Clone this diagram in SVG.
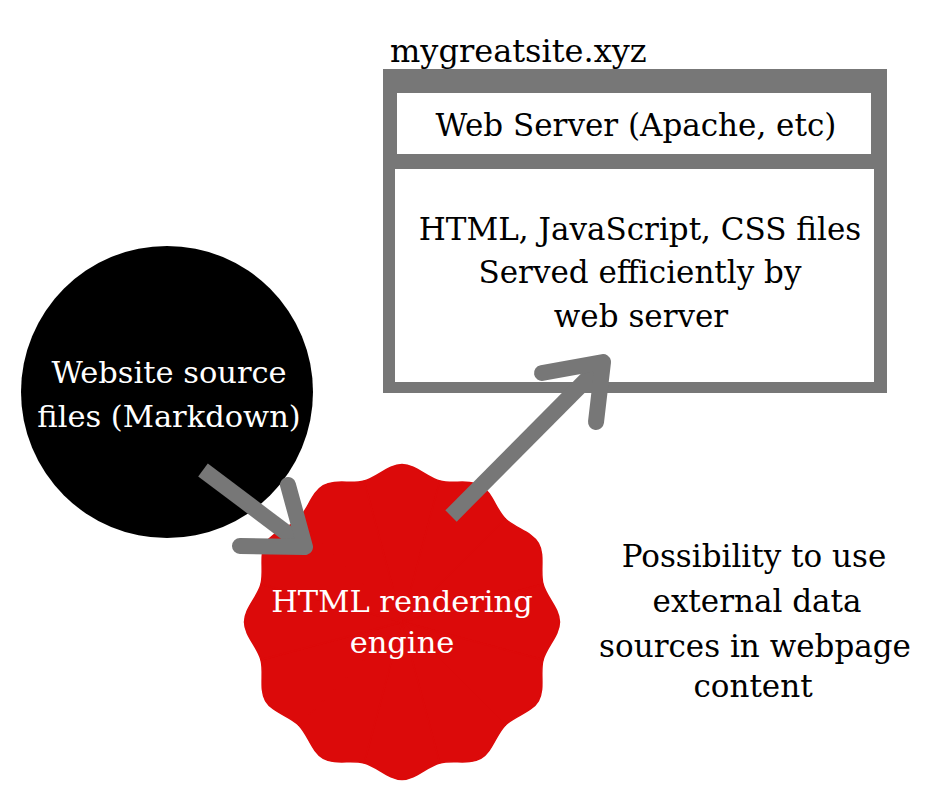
<svg xmlns="http://www.w3.org/2000/svg" xmlns:xlink="http://www.w3.org/1999/xlink" width="940" height="788" viewBox="0 0 940 788">
<style>
  .t { font-family: "DejaVu Serif", "Liberation Serif", serif; font-size: 31px; text-anchor: middle; }
  .w { font-size: 30.5px; }
  .dark { fill: #000000; }
  .light { fill: #ffffff; }
  .shaft { fill: none; stroke: #777777; stroke-width: 16; stroke-linecap: butt; }
  .head { fill: none; stroke: #777777; stroke-width: 16; stroke-linecap: round; stroke-linejoin: round; }
  .lobe { fill: #dc0a0a; stroke: #dc0a0a; stroke-width: 1.5; stroke-linejoin: round; }
</style>
<defs>
  <path id="lobe" class="lobe" d="M0,0 L-37.79,-141.03 C-24.96,-144.47 -13.2,-157.5 0,-157.5 C13.2,-157.5 24.96,-144.47 37.79,-141.03 Z"/>
</defs>
<rect width="940" height="788" fill="#ffffff"/>

<g id="server">
  <text class="t dark" x="390" y="62" style="text-anchor:start;font-size:32px">mygreatsite.xyz</text>
  <rect x="383" y="69" width="504" height="324" fill="#777777"/>
  <rect x="397" y="93" width="474" height="61" fill="#ffffff"/>
  <rect x="395" y="169" width="479" height="213" fill="#ffffff"/>
  <text class="t dark" x="636" y="136">Web Server (Apache, etc)</text>
  <text class="t dark" x="640" y="240">HTML, JavaScript, CSS files</text>
  <text class="t dark" x="640" y="283">Served efficiently by</text>
  <text class="t dark" x="641" y="327">web server</text>
</g>

<g id="source">
  <circle cx="167" cy="392" r="146" fill="#000000"/>
  <text class="t w light" x="169" y="383">Website source</text>
  <text class="t w light" x="169" y="427">files (Markdown)</text>
</g>

<g id="engine">
  <g transform="translate(402,622)">
    <use xlink:href="#lobe"/>
    <use xlink:href="#lobe" transform="rotate(30)"/>
    <use xlink:href="#lobe" transform="rotate(60)"/>
    <use xlink:href="#lobe" transform="rotate(90)"/>
    <use xlink:href="#lobe" transform="rotate(120)"/>
    <use xlink:href="#lobe" transform="rotate(150)"/>
    <use xlink:href="#lobe" transform="rotate(180)"/>
    <use xlink:href="#lobe" transform="rotate(210)"/>
    <use xlink:href="#lobe" transform="rotate(240)"/>
    <use xlink:href="#lobe" transform="rotate(270)"/>
    <use xlink:href="#lobe" transform="rotate(300)"/>
    <use xlink:href="#lobe" transform="rotate(330)"/>
  </g>
  <text class="t w light" x="402" y="612">HTML rendering</text>
  <text class="t w light" x="402" y="653">engine</text>
</g>

<g id="note">
  <text class="t dark" x="754" y="567">Possibility to use</text>
  <text class="t dark" x="757" y="612">external data</text>
  <text class="t dark" x="755" y="657">sources in webpage</text>
  <text class="t dark" x="753" y="697">content</text>
</g>

<g id="connectors">
  <line class="shaft" x1="203" y1="470" x2="300" y2="543"/>
  <polyline class="head" points="288,485 305,547 240,546"/>
  <line class="shaft" x1="451" y1="516" x2="599" y2="367"/>
  <polyline class="head" points="542,373 603,362 596,422"/>
</g>
</svg>
